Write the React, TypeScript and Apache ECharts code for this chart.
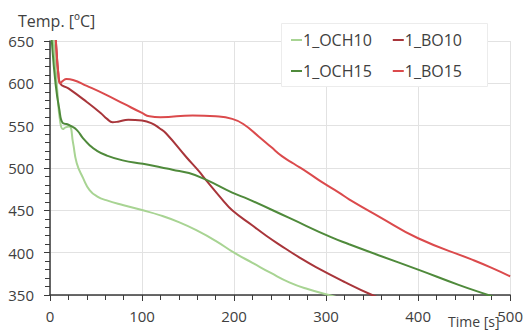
import React, { useEffect, useRef } from "react";
import * as echarts from "echarts";

const seriesNames = ["1_OCH10", "1_BO10", "1_OCH15", "1_BO15"];

const och10Time = [0, 4, 8, 11, 14, 17, 21, 25, 29, 36, 43, 52, 61, 80, 101, 120, 140, 160, 180, 200, 220, 240, 260, 280, 303, 320];
const och10Temp = [700, 650, 590, 555, 546, 548, 549, 530, 506, 488, 474, 466, 462, 456, 450, 444, 436, 426, 414, 400, 388, 376, 365, 357, 350, 345];

const och15Time = [0, 2, 6, 10, 14, 18, 22, 29, 36, 43, 50, 61, 79, 101, 120, 133, 151, 170, 198, 216, 260, 306, 325, 357, 400, 444, 476, 495];
const och15Temp = [690, 650, 600, 570, 553, 552, 550, 545, 535, 527, 521, 515, 509, 505, 501, 498, 494, 486, 471, 463, 441, 418, 410, 397, 380, 362, 350, 343];

const bo10Time = [0, 4, 7, 9, 11, 20, 40, 55, 62, 68, 75, 85, 100, 110, 119, 126, 148, 162, 170, 187, 198, 220, 235, 250, 270, 289, 321, 350, 365];
const bo10Temp = [740, 690, 640, 612, 600, 594, 578, 565, 558, 554, 555, 557, 556, 553, 547, 541, 513, 496, 485, 463, 450, 432, 420, 409, 395, 383, 365, 350, 344];

const bo15Time = [0, 4, 7, 9, 11, 14, 18, 25, 40, 60, 80, 100, 108, 120, 155, 180, 198, 210, 227, 240, 252, 265, 281, 296, 314, 325, 357, 400, 458, 480, 500];
const bo15Temp = [740, 690, 640, 612, 600, 603, 605, 604, 597, 587, 576, 565, 561, 560, 562, 561, 558, 552, 537, 525, 514, 505, 494, 483, 471, 463, 443, 417, 392, 382, 372];

const seriesColors = ["#a8d493", "#a8353a", "#4f8a3b", "#db4a4c"];

const xTicks = { min: 0, max: 500, interval: 100 };
const yTicks = { min: 350, max: 650, interval: 50 };

const pairs = (t: number[], v: number[]) => t.map((x, i) => [x, v[i]]);

export default function App() {
  const ref = useRef<HTMLDivElement>(null);
  useEffect(() => {
    if (!ref.current) return;
    const chart = echarts.init(ref.current, null, { renderer: "svg" });
    const font = "'Open Sans', 'Noto Sans', sans-serif";
    const dataSets = [
      pairs(och10Time, och10Temp),
      pairs(bo10Time, bo10Temp),
      pairs(och15Time, och15Temp),
      pairs(bo15Time, bo15Temp),
    ];
    const axisLabel = { color: "#404040", fontFamily: font, fontSize: 15 };
    const legendBase = {
      left: 291,
      icon: "rect",
      itemWidth: 11,
      itemHeight: 2,
      itemGap: 21,
      padding: 0,
      z: 10,
      textStyle: { color: "#404040", fontFamily: font, fontSize: 16, padding: [0, 0, 0, -4] },
    };
    chart.setOption({
      animation: false,
      backgroundColor: "#ffffff",
      grid: { left: 50, right: 14, top: 41, bottom: 37, containLabel: false },
      xAxis: {
        type: "value",
        min: xTicks.min,
        max: xTicks.max,
        interval: xTicks.interval,
        axisLine: { show: true, lineStyle: { color: "#3a3a3a", width: 1.5 } },
        axisTick: { show: true, length: 6, lineStyle: { color: "#3a3a3a" } },
        minorTick: { show: true, splitNumber: 5, length: 5, lineStyle: { color: "#3a3a3a" } },
        splitLine: { show: true, lineStyle: { color: "#e2e2e2" } },
        axisLabel: { ...axisLabel, margin: 13 },
      },
      yAxis: {
        type: "value",
        min: yTicks.min,
        max: yTicks.max,
        interval: yTicks.interval,
        axisLine: { show: true, lineStyle: { color: "#3a3a3a", width: 1.5 } },
        axisTick: { show: true, length: 6, lineStyle: { color: "#3a3a3a" } },
        minorTick: { show: true, splitNumber: 5, length: 5, lineStyle: { color: "#3a3a3a" } },
        splitLine: { show: true, lineStyle: { color: "#e2e2e2" } },
        axisLabel: { ...axisLabel, margin: 16 },
      },
      legend: [
        { ...legendBase, data: [seriesNames[0], seriesNames[1]], top: 32 },
        { ...legendBase, data: [seriesNames[2], seriesNames[3]], top: 63 },
      ],
      graphic: [
        {
          type: "rect",
          left: 281,
          top: 23,
          z: 3,
          shape: { width: 206, height: 63 },
          style: { fill: "#ffffff", stroke: "#ececec", lineWidth: 1 },
        },
        {
          type: "text",
          left: 18,
          top: 13,
          z: 10,
          style: { text: "Temp. [ºC]", fill: "#404040", font: `16px ${font}` },
        },
        {
          type: "text",
          left: 448,
          top: 314,
          z: 10,
          style: { text: "Time [s]", fill: "#404040", font: `14px ${font}` },
        },
      ],
      series: seriesNames.map((name, i) => ({
        name,
        type: "line",
        data: dataSets[i],
        symbol: "none",
        smooth: 0.5,
        clip: true,
        lineStyle: { color: seriesColors[i], width: 2 },
        itemStyle: { color: seriesColors[i] },
      })),
    });
    return () => chart.dispose();
  }, []);
  return <div ref={ref} style={{ width: 526, height: 332, position: "absolute", left: 0, top: 0 }} />;
}
